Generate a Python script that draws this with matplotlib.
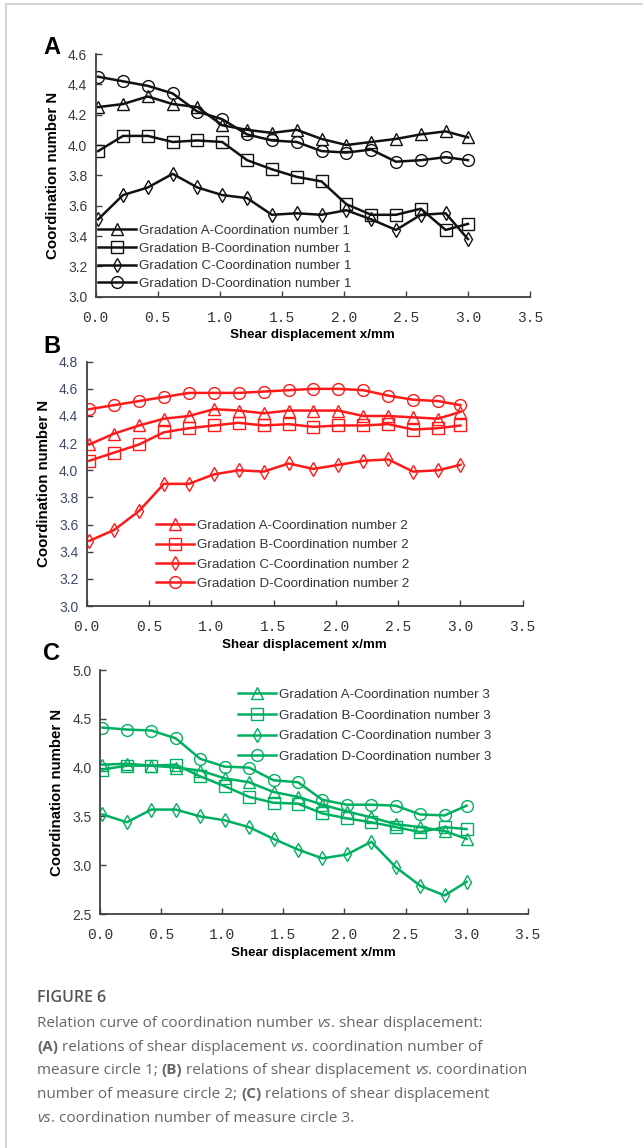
import matplotlib
matplotlib.use("Agg")
import matplotlib.pyplot as plt
from matplotlib.patches import Rectangle

# Shear displacement (mm), same for every panel
x = [0.02, 0.22, 0.42, 0.62, 0.82, 1.02, 1.22, 1.42, 1.62, 1.82, 2.02, 2.22, 2.42, 2.62, 2.82, 3.0]

# Panel A - measure circle 1
a1 = [4.25, 4.27, 4.32, 4.27, 4.25, 4.13, 4.10, 4.08, 4.10, 4.04, 4.00, 4.02, 4.04, 4.07, 4.09, 4.05]
b1 = [3.96, 4.06, 4.06, 4.02, 4.03, 4.02, 3.90, 3.84, 3.79, 3.76, 3.61, 3.54, 3.54, 3.58, 3.44, 3.48]
c1 = [3.51, 3.67, 3.72, 3.81, 3.72, 3.67, 3.65, 3.54, 3.55, 3.54, 3.57, 3.51, 3.44, 3.54, 3.55, 3.38]
d1 = [4.45, 4.42, 4.39, 4.34, 4.22, 4.17, 4.07, 4.03, 4.02, 3.96, 3.95, 3.97, 3.89, 3.90, 3.92, 3.90]

# Panel B - measure circle 2
a2 = [4.19, 4.27, 4.33, 4.38, 4.40, 4.45, 4.44, 4.42, 4.44, 4.44, 4.44, 4.40, 4.40, 4.39, 4.38, 4.43]
b2 = [4.07, 4.13, 4.19, 4.28, 4.31, 4.33, 4.35, 4.33, 4.34, 4.32, 4.33, 4.33, 4.34, 4.30, 4.31, 4.33]
c2 = [3.48, 3.56, 3.70, 3.90, 3.90, 3.97, 4.00, 3.99, 4.05, 4.01, 4.04, 4.07, 4.08, 3.99, 4.00, 4.04]
d2 = [4.45, 4.48, 4.51, 4.54, 4.57, 4.57, 4.57, 4.58, 4.59, 4.60, 4.60, 4.59, 4.55, 4.52, 4.51, 4.48]

# Panel C - measure circle 3
a3 = [4.03, 4.04, 4.02, 4.00, 3.97, 3.89, 3.85, 3.75, 3.70, 3.62, 3.55, 3.49, 3.42, 3.39, 3.35, 3.27]
b3 = [3.98, 4.02, 4.02, 4.03, 3.91, 3.81, 3.70, 3.64, 3.63, 3.53, 3.48, 3.44, 3.39, 3.34, 3.39, 3.37]
c3 = [3.52, 3.44, 3.57, 3.57, 3.50, 3.46, 3.39, 3.27, 3.16, 3.07, 3.11, 3.24, 2.98, 2.79, 2.69, 2.83]
d3 = [4.41, 4.39, 4.38, 4.30, 4.09, 4.01, 4.00, 3.87, 3.85, 3.67, 3.62, 3.62, 3.61, 3.52, 3.51, 3.61]

gradations = ["A", "B", "C", "D"]
markers = ["^", "s", "d", "o"]
x_ticks = [0.0, 0.5, 1.0, 1.5, 2.0, 2.5, 3.0, 3.5]

W, H = 643, 1148

# rect in pixels: left, top, right, bottom ; legend: handle x, top y, row spacing
panels = [
    dict(letter="A", series=[a1, b1, c1, d1], num=1, color="#111111",
         ylim=(3.0, 4.6), ystep=0.2, px=(95.7, 54, 530, 296.7),
         leg=(98, 224.5, 0.40), lpos=(43, 48), ytickc="#3a3a3a"),
    dict(letter="B", series=[a2, b2, c2, d2], num=2, color="#ff1a1a",
         ylim=(3.0, 4.8), ystep=0.2, px=(86.7, 361.7, 522.7, 606),
         leg=(156, 519.8, 0.52), lpos=(43, 346), ytickc="#3c4a6a"),
    dict(letter="C", series=[a3, b3, c3, d3], num=3, color="#00b060",
         ylim=(2.5, 5.0), ystep=0.5, px=(100, 670, 527.7, 914),
         leg=(238, 688.8, 0.62), lpos=(43, 653), ytickc="#3a3a3a"),
]

fig = plt.figure(figsize=(W / 100, H / 100), dpi=100)

# light frame of the page crop
fig.patches.append(Rectangle((6 / W, -0.1), 1.2, 1 - 4 / H + 0.1, transform=fig.transFigure,
                             fill=False, edgecolor="#cccccc", linewidth=1.2))

for p in panels:
    l, t, r, b = p["px"]
    ax = fig.add_axes([l / W, 1 - b / H, (r - l) / W, (b - t) / H])
    for ser, g, m in zip(p["series"], gradations, markers):
        ms = 8.5 if m != "d" else 7.5
        ax.plot(x, ser, color=p["color"], lw=1.8, marker=m, markersize=ms,
                markerfacecolor="none", markeredgecolor=p["color"], markeredgewidth=1.0,
                label=f"Gradation {g}-Coordination number {p['num']}")
    ax.set_xlim(0, 3.5)
    ax.set_ylim(*p["ylim"])
    lo, hi = p["ylim"]
    n = int(round((hi - lo) / p["ystep"]))
    yt = [lo + i * p["ystep"] for i in range(n + 1)]
    ax.set_yticks(yt)
    ax.set_yticklabels([f"{v:.1f}" for v in yt], fontsize=10, family="Liberation Sans", color=p["ytickc"])
    ax.set_xticks(x_ticks)
    ax.set_xticklabels([f"{v:.1f}" for v in x_ticks], fontsize=10.5, family="Liberation Mono", color="#333333")
    ax.tick_params(direction="in", length=4, width=1.0, color="#404040")
    ax.tick_params(axis="y", pad=6)
    ax.tick_params(axis="x", pad=10)
    for s in ["top", "right"]:
        ax.spines[s].set_visible(False)
    for s in ["left", "bottom"]:
        ax.spines[s].set_color("#404040")
        ax.spines[s].set_linewidth(1.3)
    ax.set_xlabel("Shear displacement x/mm", fontsize=9.6, fontweight="bold",
                  family="Liberation Sans", labelpad=3.5)
    ax.set_ylabel("Coordination number N", fontsize=10.8, fontweight="bold",
                  family="Liberation Sans", labelpad=6)
    hx, hy, sp = p["leg"]
    leg = ax.legend(loc="upper left", bbox_to_anchor=(hx / W, 1 - hy / H),
                    bbox_transform=fig.transFigure, frameon=False, borderpad=0,
                    handlelength=2.85, handletextpad=0.2, labelspacing=sp,
                    prop={"family": "Liberation Sans", "size": 9.6}, borderaxespad=0)
    for tx in leg.get_texts():
        tx.set_color("#333333")
    fig.text(p["lpos"][0] / W, 1 - p["lpos"][1] / H, p["letter"],
             fontsize=17, fontweight="bold", family="Liberation Sans", va="center")

# caption
fig.canvas.draw()
renderer = fig.canvas.get_renderer()
cap_color = "#666666"
fig.text(37 / W, 1 - 1002 / H, "FIGURE 6", fontsize=11.5, color="#555555",
         family="Open Sans", fontweight="semibold", va="baseline")

caption_lines = [
    [("Relation curve of coordination number ", "normal", "normal"), ("vs", "normal", "italic"),
     (". shear displacement:", "normal", "normal")],
    [("(A)", "bold", "normal"), (" relations of shear displacement ", "normal", "normal"),
     ("vs", "normal", "italic"), (". coordination number of", "normal", "normal")],
    [("measure circle 1; ", "normal", "normal"), ("(B)", "bold", "normal"),
     (" relations of shear displacement ", "normal", "normal"), ("vs", "normal", "italic"),
     (". coordination", "normal", "normal")],
    [("number of measure circle 2; ", "normal", "normal"), ("(C)", "bold", "normal"),
     (" relations of shear displacement", "normal", "normal")],
    [("vs", "normal", "italic"), (". coordination number of measure circle 3.", "normal", "normal")],
]
y0 = 1027
for i, runs in enumerate(caption_lines):
    xpix = 37
    ypix = y0 + i * 23.7
    for txt, w, st in runs:
        t = fig.text(xpix / W, 1 - ypix / H, txt, fontsize=11.0, color=cap_color,
                     family="Open Sans", fontweight=w, fontstyle=st, va="baseline")
        bb = t.get_window_extent(renderer=renderer)
        xpix += bb.width

fig.savefig("out.png", dpi=100)
